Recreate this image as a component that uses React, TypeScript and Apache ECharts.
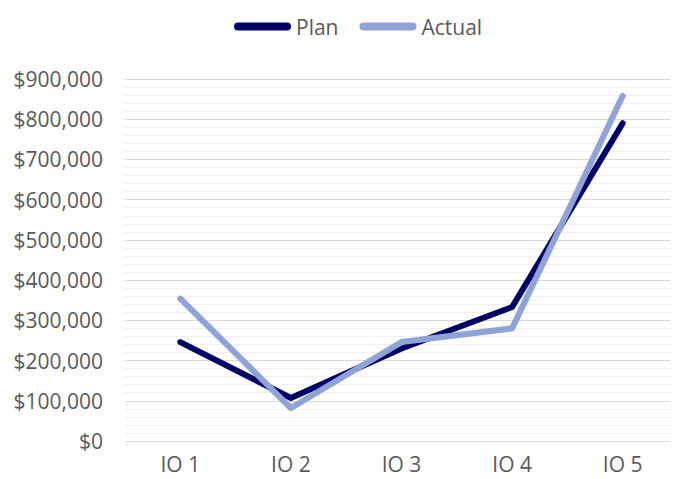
import React, { useEffect, useRef } from "react";
import * as echarts from "echarts";

const categories = ["IO 1", "IO 2", "IO 3", "IO 4", "IO 5"];
const planValues = [246000, 107000, 230000, 333000, 790000];
const actualValues = [354000, 82000, 246000, 280000, 858000];

const FONT = "'Open Sans', 'Liberation Sans', sans-serif";
const TEXT = "#595959";

export default function App() {
  const ref = useRef<HTMLDivElement>(null);
  useEffect(() => {
    if (!ref.current) return;
    const chart = echarts.init(ref.current, undefined, { renderer: "svg" });
    const icon = "path://M4,0 H53 A4,4 0 0 1 53,8 H4 A4,4 0 0 1 4,0 Z";
    chart.setOption({
      animation: false,
      legend: {
        top: 8,
        left: 226,
        padding: 0,
        itemWidth: 57,
        itemHeight: 8,
        itemGap: 21,
        textStyle: { fontFamily: FONT, fontSize: 21, color: TEXT },
        data: [
          { name: "Plan", icon },
          { name: "Actual", icon },
        ],
      },
      grid: { left: 117, right: -4, top: 71, bottom: 38, containLabel: false },
      xAxis: {
        type: "category",
        data: categories,
        boundaryGap: true,
        axisLine: { show: false },
        axisTick: { show: false },
        axisLabel: {
          fontFamily: FONT,
          fontSize: 21,
          lineHeight: 21,
          color: TEXT,
          margin: 12,
        },
      },
      yAxis: {
        type: "value",
        min: 0,
        max: 900000,
        interval: 100000,
        axisLine: { show: false },
        axisTick: { show: false },
        axisLabel: {
          fontFamily: FONT,
          fontSize: 21,
          color: TEXT,
          margin: 22,
          formatter: (v: number) => "$" + v.toLocaleString("en-US"),
        },
        splitLine: { lineStyle: { color: "#d9d9d9", width: 1 } },
        minorTick: { show: false, splitNumber: 5 },
        minorSplitLine: { show: true, lineStyle: { color: "#efefef", width: 1 } },
      },
      series: [
        {
          name: "Plan",
          type: "line",
          data: planValues,
          symbol: "none",
          lineStyle: { color: "#000066", width: 6, cap: "round", join: "round" },
          itemStyle: { color: "#000066" },
        },
        {
          name: "Actual",
          type: "line",
          data: actualValues,
          symbol: "none",
          lineStyle: { color: "#8FA3D6", width: 6, cap: "round", join: "round" },
          itemStyle: { color: "#8FA3D6" },
        },
      ],
    });
    return () => chart.dispose();
  }, []);
  return <div ref={ref} style={{ width: 670, height: 471 }} />;
}
